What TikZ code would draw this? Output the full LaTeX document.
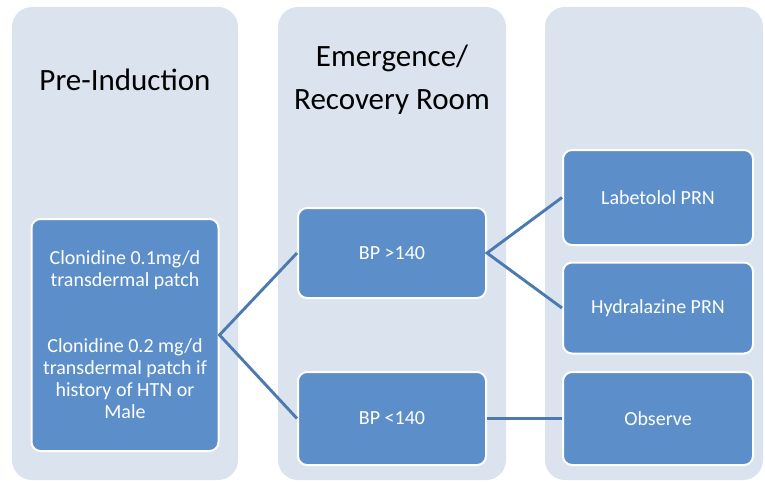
\documentclass[tikz,border=0pt]{standalone}
\usepackage{fontspec}
\setmainfont{Carlito}
\definecolor{panelbg}{RGB}{219,227,239}
\definecolor{boxfill}{RGB}{92,143,201}
\definecolor{linkcol}{RGB}{76,122,176}
\begin{document}
\begin{tikzpicture}[x=1pt,y=-1pt,
  panel/.style={fill=panelbg, draw=none, rounded corners=20pt},
  stepbox/.style={draw=white, line width=2pt, fill=boxfill, rounded corners=9pt,
    text=white, align=center, font=\fontsize{20}{22}\selectfont, inner sep=0pt},
  title/.style={text=black, align=center, font=\fontsize{31}{43}\selectfont},
  link/.style={draw=linkcol, line width=2.9pt}]
\useasboundingbox (0,0) rectangle (765,484);
\fill[white] (0,0) rectangle (765,484);
% panels
\path[panel] (12,7) rectangle (238,480);
\path[panel] (278,7) rectangle (506,480);
\path[panel] (545,7) rectangle (763,480);
% titles
\node[title] (t1) at (125,80) {Pre-Induction};
\node[title] (t2) at (392,80) {Emergence/\\Recovery Room};
% boxes
\node[stepbox, minimum width=187pt, minimum height=232pt] (clon) at (125,335)
  {Clonidine 0.1mg/d\\transdermal patch\\[44pt]Clonidine 0.2 mg/d\\transdermal patch if\\history of HTN or\\Male};
\node[stepbox, minimum width=188pt, minimum height=90pt] (hi) at (392,253) {BP >140};
\node[stepbox, minimum width=188pt, minimum height=93pt] (lo) at (392,418.5) {BP <140};
\node[stepbox, minimum width=190pt, minimum height=95pt] (lab) at (658,197.5) {Labetolol PRN};
\node[stepbox, minimum width=190pt, minimum height=91pt] (hyd) at (658,308) {Hydralazine PRN};
\node[stepbox, minimum width=190pt, minimum height=93pt] (obs) at (658,418.5) {Observe};
% connectors
\draw[link] (hi.west) -- (clon.east) -- (lo.west);
\draw[link] (lab.west) -- (hi.east) -- (hyd.west);
\draw[link] (lo.east) -- (obs.west);
\end{tikzpicture}
\end{document}
